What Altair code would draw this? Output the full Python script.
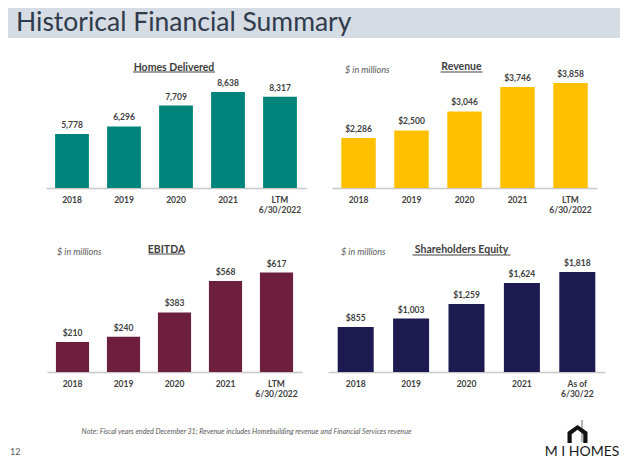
import altair as alt
import pandas as pd

# ---- data ----
years = ["2018", "2019", "2020", "2021", "LTM|6/30/2022"]
years_eq = ["2018", "2019", "2020", "2021", "As of|6/30/22"]
homes_delivered = [5778, 6296, 7709, 8638, 8317]
revenue = [2286, 2500, 3046, 3746, 3858]
ebitda = [210, 240, 383, 568, 617]
equity = [855, 1003, 1259, 1624, 1818]

FONT = "Lato"
TXT = "#404040"
one = pd.DataFrame({"k": [0]})


def panel(cats, vals, color, fmt, domain, width, title, title_dx, title_w,
          title_y, ul_y, millions=None, pad=0.35):
    df = pd.DataFrame({"cat": cats, "val": vals})
    base = alt.Chart(df).encode(
        x=alt.X("cat:N", sort=cats,
                scale=alt.Scale(paddingInner=pad, paddingOuter=pad / 2),
                axis=alt.Axis(title=None, labelAngle=0,
                              labelExpr="split(datum.label, '|')",
                              labelFont=FONT, labelFontWeight="bold",
                              labelFontSize=8.5, labelColor=TXT,
                              labelPadding=7, labelLineHeight=10,
                              ticks=False, domainColor="#c8c8c8",
                              domainWidth=1.5)),
        y=alt.Y("val:Q", scale=alt.Scale(domain=domain, zero=False, nice=False),
                axis=None),
    )
    bars = base.mark_bar(color=color, clip=True)
    labels = base.mark_text(dy=-4, baseline="bottom", font=FONT,
                            fontWeight="bold", fontSize=8.5, color=TXT).encode(
        text=alt.Text("val:Q", format=fmt))
    cx = width / 2 + title_dx
    ttl = alt.Chart(one).mark_text(font=FONT, fontWeight="bold", fontSize=10.5,
                                   color=TXT, baseline="alphabetic",
                                   align="center").encode(
        x=alt.value(cx), y=alt.value(title_y), text=alt.value(title))
    ul = alt.Chart(one).mark_rule(color=TXT, strokeWidth=1).encode(
        x=alt.value(cx - title_w / 2), x2=alt.value(cx + title_w / 2),
        y=alt.value(ul_y))
    layers = [bars, labels, ttl, ul]
    if millions is not None:
        mx, my = millions
        layers.append(alt.Chart(one).mark_text(
            font=FONT, fontStyle="italic", fontSize=9, color="#595959",
            align="left", baseline="middle").encode(
            x=alt.value(mx), y=alt.value(my), text=alt.value("$ in millions")))
    return alt.layer(*layers).properties(width=width, height=110)


def spacer(w):
    return alt.Chart(one).mark_point(opacity=0).properties(width=w, height=110)


p1 = panel(years, homes_delivered, "#00837A", ",.0f", [2100, 9590], 260,
           "Homes Delivered", -2, 82, -7.5, -6)
p2 = panel(years, revenue, "#FFC000", "$,.0f", [857, 4000], 265,
           "Revenue", -3, 42, -8, -6, millions=(13, -8))
p3 = panel(years, ebitda, "#6D1F3D", "$,.0f", [34, 679], 255,
           "EBITDA", -8, 36, -9.5, -8, millions=(10, -10.3))
p4 = panel(years_eq, equity, "#1C1A50", "$,.0f", [67, 1993], 277,
           "Shareholders Equity", -5, 98, -9, -7, millions=(13, -10.3))

# nested concats count as zero-size in a flush layout, so the spacing
# below is the distance between the tops of the two rows
row1 = alt.hconcat(spacer(12), p1, p2, spacing=26, bounds="flush")
row2 = alt.hconcat(spacer(13), p3, p4, spacing=26, bounds="flush")
body = alt.vconcat(row1, row2, spacing=184, bounds="flush")

header = alt.layer(
    alt.Chart(one).mark_rect(color="#D6DCE4").encode(
        x=alt.value(0), x2=alt.value(612), y=alt.value(0), y2=alt.value(30)),
    alt.Chart(one).mark_text(font=FONT, fontSize=26.5, color="#2F3B4C",
                             align="left", baseline="alphabetic").encode(
        x=alt.value(8), y=alt.value(23),
        text=alt.value("Historical Financial Summary")),
).properties(width=612, height=30)

house = "M-1,0.9 L-1,-0.2 L0,-0.9 L1,-0.2 L1,0.9 L0.58,0.9 L0.58,0.02 L0,-0.42 L-0.58,0.02 L-0.58,0.9 Z"
bar_shape = "M-0.1,-1 L0.1,-1 L0.1,1 L-0.1,1 Z"

FY = 294  # footer marks offset (footer view starts right after the header gap)
footer = alt.layer(
    alt.Chart(one).mark_text(font=FONT, fontStyle="italic", fontSize=7.2,
                             color="#595959", align="center",
                             baseline="middle").encode(
        x=alt.value(238.5), y=alt.value(FY + 20),
        text=alt.value("Note: Fiscal years ended December 31; Revenue includes "
                       "Homebuilding revenue and Financial Services revenue")),
    alt.Chart(one).mark_text(font=FONT, fontSize=9, color="#595959",
                             align="left", baseline="alphabetic").encode(
        x=alt.value(2), y=alt.value(FY + 43), text=alt.value("12")),
    alt.Chart(one).mark_point(shape=bar_shape, filled=True, color="#B5B5B5",
                              size=484, opacity=1).encode(
        x=alt.value(574), y=alt.value(FY + 19)),
    alt.Chart(one).mark_point(shape=house, filled=True, color="#111111",
                              size=400, opacity=1).encode(
        x=alt.value(569.5), y=alt.value(FY + 22)),
    alt.Chart(one).mark_text(font=FONT, fontSize=14, color="#1A1A1A",
                             align="center", baseline="alphabetic").encode(
        x=alt.value(574), y=alt.value(FY + 44), text=alt.value("M I HOMES")),
).properties(width=612, height=FY + 45)

chart = alt.vconcat(header, body, footer, spacing=40, bounds="flush").properties(
    padding=0, background="white"
).configure_view(stroke=None)

chart.save("out.html", embed_options={"renderer": "svg", "actions": False})
